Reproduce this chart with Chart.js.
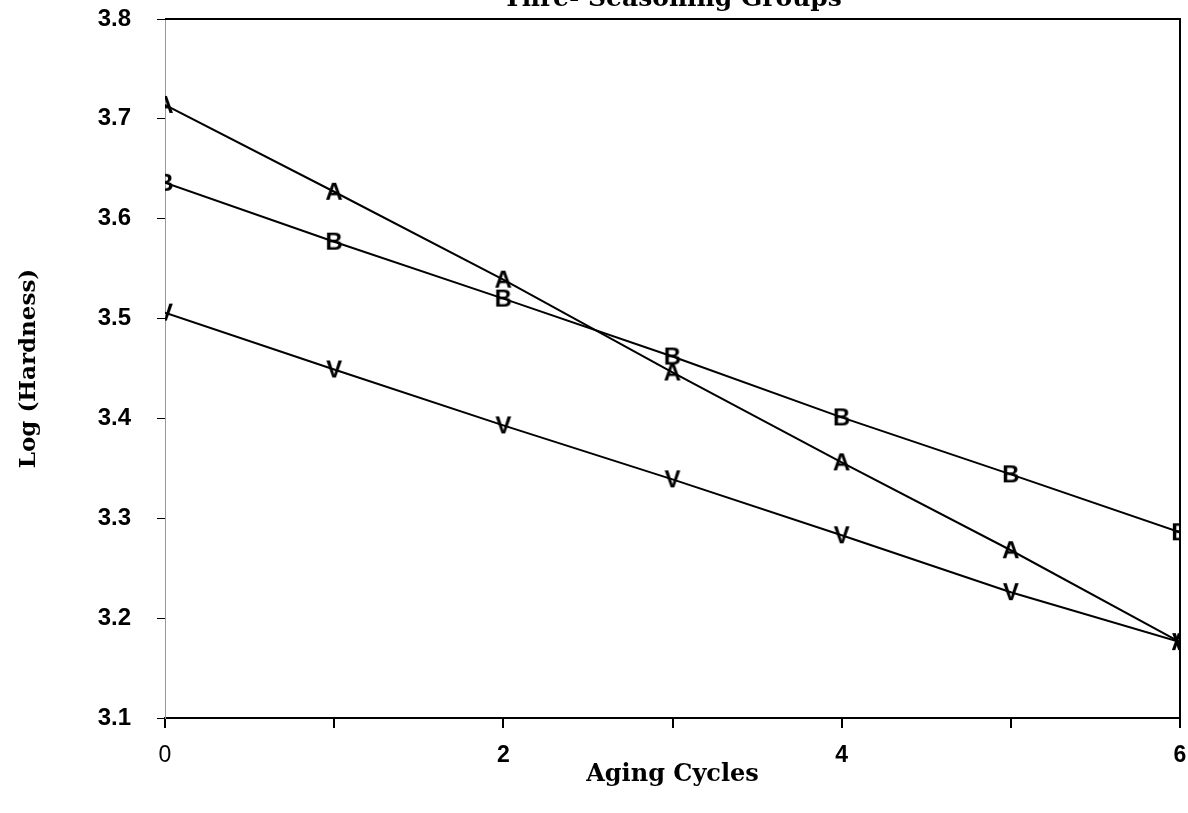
<!DOCTYPE html>
<html>
<head>
<meta charset="utf-8">
<script src="https://cdn.jsdelivr.net/npm/chart.js@4/dist/chart.umd.min.js"></script>
<style>
  html, body { margin: 0; padding: 0; background: #fff; }
  #wrap { width: 1188px; height: 813px; position: relative; }
</style>
</head>
<body>
<div id="wrap"><canvas id="chart"></canvas></div>
<script>
const cycles = [0, 1, 2, 3, 4, 5, 6]
const groupA = [3.714, 3.627, 3.539, 3.446, 3.356, 3.268, 3.176]
const groupB = [3.636, 3.577, 3.520, 3.462, 3.401, 3.344, 3.286]
const groupV = [3.506, 3.449, 3.393, 3.339, 3.283, 3.226, 3.176]
const xTickLabels = ['0', '', '2', '', '4', '', '6']

const titleText = 'Thre- Seasoning Groups'

// letter glyphs used as point markers
function letterMark(ch) {
  const c = document.createElement('canvas')
  c.width = 28
  c.height = 28
  const g = c.getContext('2d')
  g.fillStyle = '#000'
  g.font = 'bold 24px "Liberation Sans"'
  g.textAlign = 'center'
  g.textBaseline = 'middle'
  g.fillText(ch, 14, 15)
  return c
}

const frame = {
  id: 'frame',
  afterDraw(chart) {
    const { ctx, chartArea: a } = chart
    ctx.save()
    ctx.strokeStyle = '#000'
    ctx.lineWidth = 2
    ctx.beginPath()
    ctx.moveTo(a.left, a.top)
    ctx.lineTo(a.right, a.top)
    ctx.lineTo(a.right, a.bottom)
    ctx.stroke()
    // title sits partly above the top edge
    ctx.fillStyle = '#000'
    ctx.font = 'bold 25px "DejaVu Serif"'
    ctx.textAlign = 'center'
    ctx.textBaseline = 'alphabetic'
    ctx.fillText(titleText, (a.left + a.right) / 2, 6)
    ctx.restore()
  }
}

const line = (data, ch) => ({
  data: data.map((v, i) => ({ x: cycles[i], y: v })),
  borderColor: '#000',
  borderWidth: 2,
  pointStyle: letterMark(ch),
  fill: false,
  tension: 0
})

new Chart(document.getElementById('chart'), {
  type: 'line',
  data: {
    datasets: [line(groupA, 'A'), line(groupB, 'B'), line(groupV, 'V')]
  },
  options: {
    responsive: true,
    maintainAspectRatio: false,
    animation: false,
    layout: { padding: { top: 19, right: 8, left: 11, bottom: 20 } },
    plugins: {
      legend: { display: false },
      tooltip: { enabled: false },
      title: { display: false }
    },
    scales: {
      x: {
        type: 'linear',
        min: 0,
        max: 6,
        afterFit: s => {
          s.height = 75
          s.paddingLeft = 0
          s.paddingRight = 0
        },
        border: { color: '#000', width: 2 },
        grid: { drawOnChartArea: false, color: '#000', tickLength: 10, lineWidth: 2 },
        ticks: {
          stepSize: 1,
          padding: 14,
          color: '#000',
          font: ctx => ({
            family: '"Liberation Sans"',
            size: 23,
            weight: ctx.tick && ctx.tick.value === 0 ? 'normal' : 'bold'
          }),
          callback: v => xTickLabels[cycles.indexOf(v)]
        },
        title: {
          display: true,
          text: 'Aging Cycles',
          color: '#000',
          font: { family: '"DejaVu Serif"', size: 24, weight: 'bold' },
          padding: { top: 12 }
        }
      },
      y: {
        min: 3.1,
        max: 3.8,
        afterFit: s => {
          s.width = 154
          s.paddingTop = 0
          s.paddingBottom = 0
        },
        border: { color: '#999', width: 1, dash: [3, 3] },
        grid: { drawOnChartArea: false, color: '#000', tickLength: 8 },
        ticks: {
          stepSize: 0.1,
          padding: 26,
          color: '#000',
          font: { family: '"Liberation Sans"', size: 24, weight: 'bold' },
          callback: v => v.toFixed(1)
        },
        title: {
          display: true,
          text: 'Log (Hardness)',
          color: '#000',
          font: { family: '"DejaVu Serif"', size: 23, weight: 'bold' },
          padding: { bottom: 0 }
        }
      }
    }
  },
  plugins: [frame]
})
</script>
</body>
</html>
